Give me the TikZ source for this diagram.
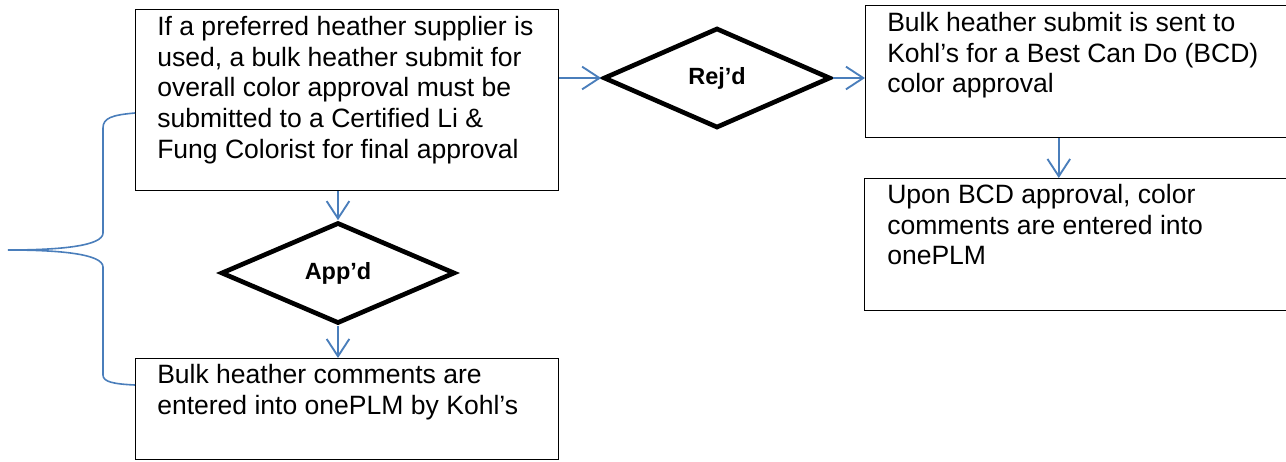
\documentclass[tikz,border=0pt]{standalone}
\usepackage{fontspec}
\setmainfont{Liberation Sans}
\usetikzlibrary{arrows.meta,calc,shapes.geometric}
\definecolor{FlowInk}{HTML}{000000}
\definecolor{FlowBlue}{HTML}{4A7EBB}
\tikzset{
  every node/.style={text=FlowInk},
  stepbox/.style={draw=FlowInk, line width=1.1pt, rectangle, inner sep=0pt, anchor=north west},
  steptext/.style={anchor=north west, inner sep=0pt, align=left, font=\fontsize{19.9}{23}\selectfont},
  decision/.style={draw=FlowInk, line width=3.5pt, diamond, inner sep=0pt, font=\fontsize{17.6}{20}\selectfont\bfseries},
  flow/.style={-{Straight Barb[length=13pt,width=17pt]}, draw=FlowBlue, line width=1.4pt},
  bracket/.style={draw=FlowBlue, line width=1.2pt},
}

\begin{document}
\begin{tikzpicture}[x=0.75pt, y=-0.75pt]
  \useasboundingbox (0,0) rectangle (1286,461);
  % Left column: colorist submit, then the approved branch
  \node[stepbox, minimum width=317.25pt, minimum height=135.75pt] (submit) at (135,9) {};
  \node[steptext] (submittext) at ([shift={(22,7)}]submit.north west)
    {If a preferred heather supplier is\\used, a bulk heather submit for\\overall color approval must be\\submitted to a Certified Li \&\\Fung Colorist for final approval};
  \node[decision, minimum width=175.5pt, minimum height=75.75pt] (appd) at (338,273) {App’d};
  \node[stepbox, minimum width=317.25pt, minimum height=75.75pt] (entered) at (135,358) {};
  \node[steptext] (enteredtext) at ([shift={(22,6)}]entered.north west)
    {Bulk heather comments are\\entered into onePLM by Kohl’s};
  % Right column: the rejected branch goes on to Kohl's
  \node[decision, minimum width=170.25pt, minimum height=75pt] (rejd) at (717,78) {Rej’d};
  \node[stepbox, minimum width=326.25pt, minimum height=99pt] (bcdsend) at (865,5) {};
  \node[steptext] (bcdsendtext) at ([shift={(22,7)}]bcdsend.north west)
    {Bulk heather submit is sent to\\Kohl’s for a Best Can Do (BCD)\\color approval};
  \node[stepbox, minimum width=327pt, minimum height=99pt] (bcdok) at (864,178) {};
  \node[steptext] (bcdoktext) at ([shift={(23,6)}]bcdok.north west)
    {Upon BCD approval, color\\comments are entered into\\onePLM};
  % Connectors
  \draw[flow] (submit.east |- rejd.west) -- (rejd.west);
  \draw[flow] (rejd.east) -- (bcdsend.west |- rejd.east);
  \coordinate (drop) at ($(bcdsend.south west)!0.444!(bcdsend.south east)$);
  \draw[flow] (drop) -- (drop |- bcdok.north);
  \draw[flow] (submit.south -| appd.north) -- (appd.north);
  \draw[flow] (appd.south) -- (entered.north -| appd.south);
  % Brace on the left
  \draw[bracket] (135,113) .. controls (112,115) and (103,118) .. (103,128) -- (103,233)
    .. controls (103,246) and (60,250) .. (8,250)
    .. controls (60,250) and (103,254) .. (103,267) -- (103,375)
    .. controls (103,382) and (114,384) .. (135,385);
\end{tikzpicture}
\end{document}
